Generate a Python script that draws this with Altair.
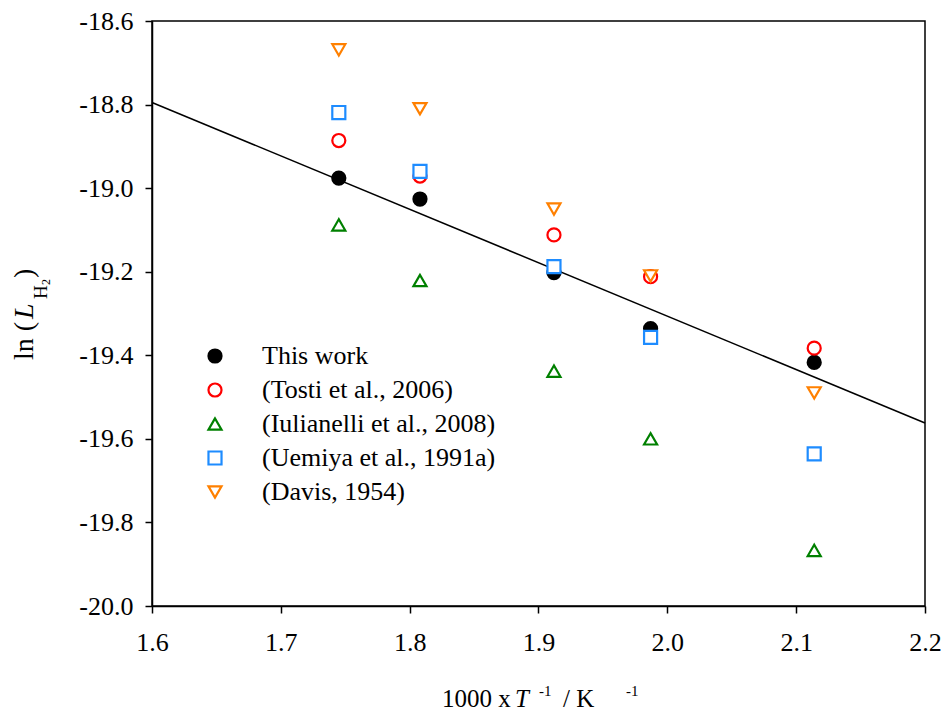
import altair as alt
import pandas as pd

# ---- data ----
inv_T = [1.745, 1.808, 1.912, 1.987, 2.114]
series_names = ["This work", "(Tosti et al., 2006)", "(Iulianelli et al., 2008)",
                "(Uemiya et al., 1991a)", "(Davis, 1954)"]
this_work = [-18.976, -19.026, -19.202, -19.336, -19.417]
tosti = [-18.886, -18.971, -19.112, -19.212, -19.383]
iulianelli = [-19.088, -19.221, -19.438, -19.600, -19.867]
uemiya = [-18.819, -18.960, -19.188, -19.357, -19.636]
davis = [-18.669, -18.810, -19.050, -19.210, -19.490]

fit_x = [1.6, 2.2]
fit_y = [-18.795, -19.562]

x_ticks = [1.6, 1.7, 1.8, 1.9, 2.0, 2.1, 2.2]
y_ticks = [-20.0, -19.8, -19.6, -19.4, -19.2, -19.0, -18.8, -18.6]

colors = ["#000000", "#FF0000", "#008000", "#1E8CFF", "#FF8000"]
fills = ["#000000", "#FFFFFF", "#FFFFFF", "#FFFFFF", "#FFFFFF"]
shapes = ["circle", "circle", "triangle-up", "square", "triangle-down"]

FONT = "Liberation Serif"

rows = []
for name, vals in zip(series_names, [this_work, tosti, iulianelli, uemiya, davis]):
    for xv, yv in zip(inv_T, vals):
        rows.append({"x": xv, "y": yv, "series": name})
df = pd.DataFrame(rows)
df["order"] = df["series"].map({n: i for i, n in enumerate(series_names)})

xscale = alt.Scale(domain=[1.6, 2.2], nice=False, zero=False)
yscale = alt.Scale(domain=[-20.0, -18.6], nice=False, zero=False)

minus_fix = "replace(format(datum.value, '.1f'), '\u2212', '-')"

axis_style = dict(labelFont=FONT, labelFontSize=26, labelColor="black", title=None,
                  labelExpr=minus_fix, grid=False, domainColor="black",
                  domainWidth=1.5, tickColor="black", tickWidth=1.5, tickSize=7,
                  labelFlush=False, labelOverlap=False)

leg = dict(title=None, orient="none", legendX=50, legendY=322, labelLimit=500)

points = alt.Chart(df).mark_point(size=170, strokeWidth=2.2, opacity=1).encode(
    x=alt.X("x:Q", scale=xscale,
            axis=alt.Axis(values=x_ticks, labelPadding=16, **axis_style)),
    y=alt.Y("y:Q", scale=yscale,
            axis=alt.Axis(values=y_ticks, labelPadding=12, **axis_style)),
    color=alt.Color("series:N", scale=alt.Scale(domain=series_names, range=colors),
                    legend=alt.Legend(**leg)),
    fill=alt.Fill("series:N", scale=alt.Scale(domain=series_names, range=fills),
                  legend=alt.Legend(**leg)),
    shape=alt.Shape("series:N", scale=alt.Scale(domain=series_names, range=shapes),
                    legend=alt.Legend(**leg)),
    order=alt.Order("order:Q"),
)

fit_df = pd.DataFrame({"x": fit_x, "y": fit_y})
line = alt.Chart(fit_df).mark_line(color="black", strokeWidth=1.5).encode(
    x=alt.X("x:Q", scale=xscale), y=alt.Y("y:Q", scale=yscale)
)

one = pd.DataFrame({"a": [0]})


def piece(txt, x, y, size, italic=False, angle=0):
    kw = dict(text=txt, font=FONT, fontSize=size, align="left",
              baseline="alphabetic", color="black")
    if italic:
        kw["fontStyle"] = "italic"
    if angle:
        kw["angle"] = angle
    return alt.Chart(one).mark_text(**kw).encode(x=alt.value(x), y=alt.value(y))


# x-axis title: 1000 x T^-1 / K^-1
x_title = [
    piece("1000 x", 290, 686, 25),
    piece("T", 363, 686, 25, italic=True),
    piece("-1", 387, 675, 15),
    piece("/ K", 411, 686, 25),
    piece("-1", 474, 675, 15),
]
# y-axis title: ln (L_H2)
y_title = [
    piece("ln (", -119, 339, 28, angle=270),
    piece("L", -119, 298, 28, italic=True, angle=270),
    piece("H", -105, 278, 19, angle=270),
    piece("2", -102, 264, 12, angle=270),
    piece(")", -119, 257, 28, angle=270),
]

chart = alt.layer(line, points, *x_title, *y_title).properties(
    width=773, height=585,
    autosize=alt.AutoSizeParams(type="none"),
    padding={"left": 144, "top": 13, "right": 16, "bottom": 107},
).configure(font=FONT).configure_view(
    stroke="black", strokeWidth=1.5
).configure_axis(
    grid=False, domainColor="black", domainWidth=1.5, tickColor="black",
    tickWidth=1.5, tickSize=7, labelFont=FONT, labelFontSize=26,
    labelColor="black", labelFlush=False,
).configure_legend(
    labelFont=FONT, labelFontSize=26, labelColor="black", symbolSize=170,
    symbolStrokeWidth=2.2, rowPadding=8, labelOffset=34, padding=0,
    symbolOpacity=1, labelLimit=500,
)

chart.save("out.html", embed_options={"renderer": "svg", "actions": False})
